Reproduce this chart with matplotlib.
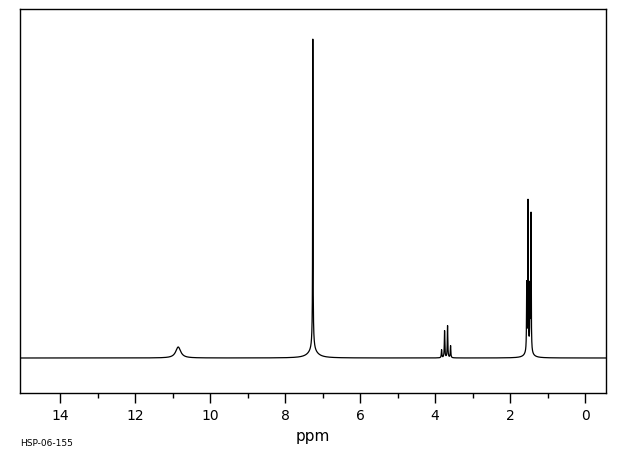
"""1H NMR spectrum, HSP-06-155."""

import matplotlib
matplotlib.use("Agg")
import matplotlib.pyplot as plt
import numpy as np

# peak list: shift (ppm), height (arb.), FWHM (ppm)
peak_ppm = [10.85, 7.26, 7.26, 7.26, 3.826, 3.746, 3.666, 3.586,
            1.555, 1.52, 1.467, 1.44, 1.50]
peak_height = [11, 296, 16, 7, 8, 27, 32, 12,
               66, 146, 60, 136, 10]
peak_width = [0.16, 0.010, 0.06, 0.3, 0.016, 0.016, 0.016, 0.016,
              0.012, 0.012, 0.012, 0.012, 0.15]

major_ticks = [14, 12, 10, 8, 6, 4, 2, 0]
minor_ticks = [13, 11, 9, 7, 5, 3, 1]
sample_id = "HSP-06-155"

ppm = np.linspace(15.07, -0.56, 40000)
intensity = np.zeros_like(ppm)
for pos, h, w in zip(peak_ppm, peak_height, peak_width):
    half = w / 2.0
    intensity += h * half**2 / (half**2 + (ppm - pos) ** 2)

fig = plt.figure(figsize=(6.2, 4.55), dpi=100)
ax = fig.add_axes([20 / 620, 62 / 455, 586 / 620, 384 / 455])
ax.plot(ppm, intensity, color="black", linewidth=0.9)

ax.set_xlim(15.07, -0.56)
ax.set_ylim(-35, 349)
ax.set_yticks([])
ax.set_xticks(major_ticks)
ax.set_xticks(minor_ticks, minor=True)
ax.set_xticklabels([str(t) for t in major_ticks], fontsize=10)
ax.tick_params(axis="x", which="major", direction="out", length=7.2, width=1, pad=4)
ax.tick_params(axis="x", which="minor", direction="out", length=3.8, width=1)
for spine in ax.spines.values():
    spine.set_linewidth(1.0)

ax.set_xlabel("ppm", fontsize=11, labelpad=5)
fig.text(20 / 620, 1 - 443 / 455, sample_id, fontsize=6.5, va="center", ha="left")

fig.savefig("out.png", dpi=100)
